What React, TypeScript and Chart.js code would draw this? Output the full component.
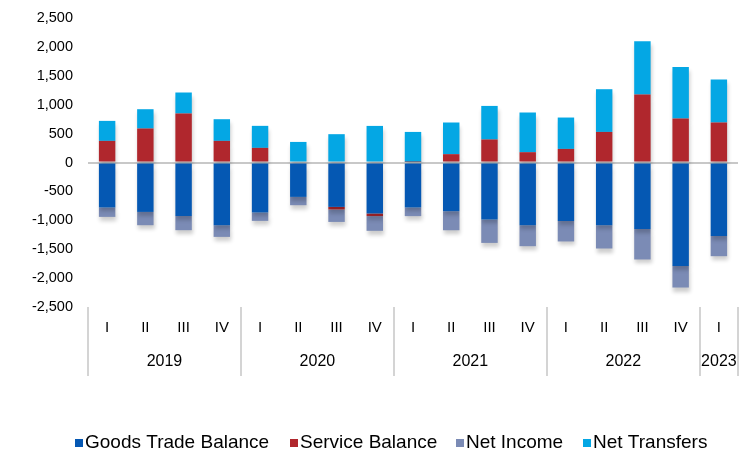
import { useEffect, useRef } from "react";
import { Chart, registerables } from "chart.js";

Chart.register(...registerables);

// ---------- data ----------
const quarters = ["I", "II", "III", "IV", "I", "II", "III", "IV", "I", "II", "III", "IV", "I", "II", "III", "IV", "I"];
const yearGroups = ["2019", "2020", "2021", "2022", "2023"];
const yearGroupSizes = [4, 4, 4, 4, 1];

const goodsTradeBalance = [-778, -855, -924, -1085, -865, -595, -768, -882, -778, -843, -986, -1085, -1010, -1085, -1149, -1789, -1270];
const serviceBalance = [374, 588, 848, 374, 253, 0, -45, -45, 10, 144, 398, 178, 235, 529, 1176, 761, 692];
const netIncome = [-163, -230, -247, -202, -145, -144, -215, -255, -150, -329, -405, -363, -356, -403, -529, -374, -351];
const netTransfers = [346, 334, 363, 375, 381, 356, 490, 633, 519, 548, 581, 687, 543, 739, 922, 893, 744];

const yTickMin = -2500;
const yTickMax = 2500;
const yTickStep = 500;

const seriesNames = ["Goods Trade Balance", "Service Balance", "Net Income", "Net Transfers"];
const seriesColors = ["#0558B3", "#B0272D", "#7B8BB5", "#04A7E4"];

const FONT = "'Liberation Sans', Arial, sans-serif";

export default function App() {
  const canvasRef = useRef<HTMLCanvasElement | null>(null);

  useEffect(() => {
    document.body.style.margin = "0";
    const canvas = canvasRef.current;
    if (!canvas) return;

    const shadowPlugin = {
      id: "barShadow",
      beforeDatasetsDraw(chart: any) {
        const ctx = chart.ctx;
        ctx.save();
        ctx.shadowColor = "rgba(0,0,0,0.2)";
        ctx.shadowBlur = 4;
        ctx.shadowOffsetX = 1;
        ctx.shadowOffsetY = 4;
      },
      afterDatasetsDraw(chart: any) {
        chart.ctx.restore();
      },
    };

    const groupPlugin = {
      id: "yearGroups",
      afterDraw(chart: any) {
        const ctx = chart.ctx;
        const xs = chart.scales.x;
        const area = chart.chartArea;
        const n = quarters.length;
        ctx.save();
        ctx.strokeStyle = "#d4d4d4";
        ctx.lineWidth = 2;
        ctx.fillStyle = "#000";
        ctx.font = `16px ${FONT}`;
        ctx.textAlign = "center";
        ctx.textBaseline = "middle";
        let start = 0;
        const lineTop = area.bottom;
        const lineBottom = 376;
        yearGroups.forEach((yr, gi) => {
          const size = yearGroupSizes[gi];
          const end = start + size - 1;
          const left = start === 0 ? area.left : (xs.getPixelForValue(start - 1) + xs.getPixelForValue(start)) / 2;
          ctx.beginPath();
          ctx.moveTo(Math.round(left), lineTop);
          ctx.lineTo(Math.round(left), lineBottom);
          ctx.stroke();
          ctx.fillText(yr, (xs.getPixelForValue(start) + xs.getPixelForValue(end)) / 2, 362);
          start += size;
        });
        ctx.beginPath();
        ctx.moveTo(Math.round(area.right), lineTop);
        ctx.lineTo(Math.round(area.right), lineBottom);
        ctx.stroke();

        // legend
        const legendX = [75, 290, 456, 583];
        ctx.font = `19px ${FONT}`;
        ctx.textAlign = "left";
        ctx.textBaseline = "alphabetic";
        seriesNames.forEach((name, i) => {
          ctx.fillStyle = seriesColors[i];
          ctx.fillRect(legendX[i], 439, 8, 8);
          ctx.fillStyle = "#000";
          ctx.fillText(name, legendX[i] + 10, 447.5);
        });
        ctx.restore();
      },
    };

    const chart = new Chart(canvas, {
      type: "bar",
      data: {
        labels: quarters,
        datasets: [goodsTradeBalance, serviceBalance, netIncome, netTransfers].map((d, i) => ({
          label: seriesNames[i],
          data: d,
          backgroundColor: seriesColors[i],
          borderWidth: 0,
          categoryPercentage: 1,
          barPercentage: 0.43,
          stack: "s",
        })),
      },
      options: {
        responsive: false,
        animation: false,
        layout: { padding: { left: 0, right: 14, top: 18, bottom: 0 } },
        plugins: {
          legend: { display: false },
          tooltip: { enabled: false },
          title: { display: false },
        },
        scales: {
          x: {
            stacked: true,
            grid: { display: false },
            border: { display: false },
            ticks: {
              color: "#000",
              font: { family: FONT, size: 15 },
              padding: 4,
              maxRotation: 0,
              autoSkip: false,
            },
            afterFit(scale: any) {
              scale.height = 145;
              scale.paddingLeft = 0;
              scale.paddingRight = 0;
            },
          },
          y: {
            stacked: true,
            min: yTickMin,
            max: yTickMax,
            border: { display: false },
            grid: {
              drawTicks: false,
              lineWidth: 2,
              color: (c: any) => (c.tick && c.tick.value === 0 ? "#c8c8c8" : "rgba(0,0,0,0)"),
            },
            ticks: {
              stepSize: yTickStep,
              color: "#000",
              padding: 15,
              font: { family: FONT, size: 14.5 },
              callback: (v: any) => Number(v).toLocaleString("en-US"),
            },
            afterFit(scale: any) {
              scale.width = 88;
              scale.paddingTop = 0;
              scale.paddingBottom = 0;
            },
          },
        },
      },
      plugins: [shadowPlugin, groupPlugin],
    });

    return () => chart.destroy();
  }, []);

  return (
    <div style={{ width: 752, height: 452, background: "#fff" }}>
      <canvas ref={canvasRef} width={752} height={452} style={{ display: "block" }} />
    </div>
  );
}
